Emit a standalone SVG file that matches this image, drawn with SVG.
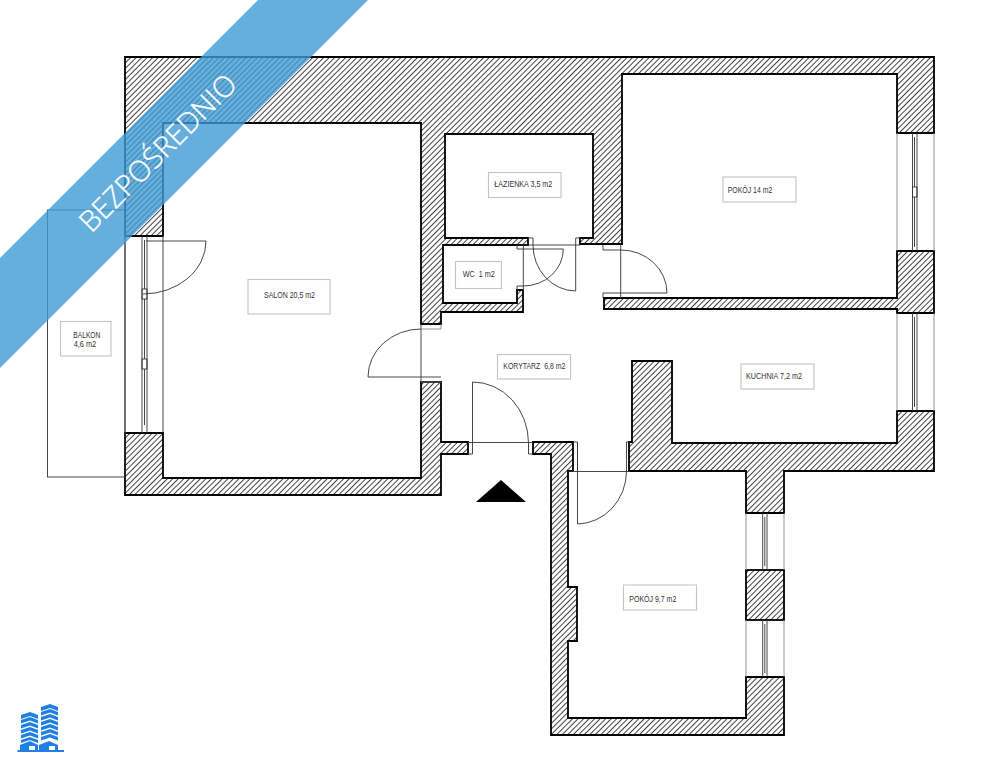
<svg xmlns="http://www.w3.org/2000/svg" width="1000" height="770" viewBox="0 0 1000 770">
<style>
.wall{fill:url(#hatch);stroke:#000;stroke-width:1.8;stroke-linejoin:miter}
.thin{fill:none;stroke:#333;stroke-width:.9}
.grey{fill:none;stroke:#888;stroke-width:.9}
.lbl{fill:#fff;stroke:#c4c4c4;stroke-width:1.1}
.t{font-family:"Liberation Sans",Arial,sans-serif;font-size:8.2px;fill:#333}
.logo{fill:#1f7fe3}
</style>
<defs>
<pattern id="hatch" patternUnits="userSpaceOnUse" width="3.9" height="3.9" patternTransform="rotate(45)">
<rect width="3.9" height="3.9" fill="#fff"/><rect width=".85" height="3.9" fill="#222"/>
</pattern>
</defs>
<rect width="1000" height="770" fill="#fff"/>
<g id="walls">
<path class="wall" d="M125 57H934V133H897V74H622V244H580V238H593V134H445V238H528V245H443V303H517V290H523V312H441V324H421V123H163V236H125Z"/>
<path class="wall" d="M125 433H163V478H421V382H441V442H468V454H441V495H125Z"/>
<path class="wall" d="M533 442H573V471H568V587H577V641H568V718H746V677H784V735H551V454H533Z"/>
<path class="wall" d="M632 361H672V443H897V411H934V471H784V513H746V471H629V442H632Z"/>
<path class="wall" d="M604 298H897V251H934V313H897V309H604Z"/>
<rect class="wall" x="746" y="570" width="38" height="50"/>
</g>
<g id="windows">
<path class="thin" d="M125 236V433M163 236V433"/>
<path class="thin" d="M142 236V433M147 236V433M144.5 240V289M144.5 299V359M144.5 369V425"/>
<rect class="thin" x="142" y="289" width="5" height="10"/><rect class="thin" x="142" y="359" width="5" height="10"/>
<path class="grey" d="M897 133V251M934 133V251M897 313V411M934 313V411"/>
<path class="thin" d="M912.5 133V251M917 133V251M914.500 137V187M914.500 197V247M912.500 313V411M917 313V411M914.500 317V407"/>
<rect class="thin" x="912.500" y="187" width="4.500" height="10"/>
<path class="grey" d="M746 513V570M784 513V570M746 620V677M784 620V677"/>
<path class="thin" d="M762.7 513V570M767 513V570M764.8 517V566M762.7 620V677M767 620V677M764.8 624V673"/>
</g>
<g id="doors">
<path class="thin" d="M146 241H206A63 53 0 0 1 143 294"/>
<path class="thin" d="M421 324V382M368 377H441M368 377A53 48 0 0 1 421 329"/>
<path class="grey" d="M421 329H441V324M421 382H441"/>
<path class="thin" d="M472.500 454V382A56 61 0 0 1 528.500 443M468 442.500H533M468 454H472.500M528.500 442.500V454H533"/>
<path class="thin" d="M577.500 442V524A50 53 0 0 0 626.500 471.500M568 471.500H630M573 442H577.500V471M626.500 442V471.500M630 442H626.500"/>
<path class="thin" d="M575.700 238V291A43 46 0 0 1 533 245M517 245H580M528 238H533V245M580 238H575.700"/>
<path class="thin" d="M523.300 245V290M517 249H563.300M517 286H523.300A40 37 0 0 0 563.300 249M517 245V249M517 286V290"/>
<path class="thin" d="M620.700 244V298M603 250H620.700M603 244.500V250M603 293V298M603 293H667A46 43 0 0 0 620.700 250"/>
</g>
<g id="balcony"><rect class="thin" x="47.500" y="210" width="77.500" height="267"/></g>
<path id="entry" d="M476 502L501 480L526 502Z" fill="#000"/>
<g id="room-balkon"><rect class="lbl" x="60.500" y="321.500" width="50.500" height="34.500"/><text class="t" x="73.300" y="337.500" textLength="27" lengthAdjust="spacingAndGlyphs">BALKON</text><text class="t" x="73.700" y="346.800" textLength="22.500" lengthAdjust="spacingAndGlyphs">4,6 m2</text></g>
<g id="room-salon"><rect class="lbl" x="248" y="279.500" width="82" height="34.500"/><text class="t" x="264" y="298" textLength="51" lengthAdjust="spacingAndGlyphs">SALON 20,5 m2</text></g>
<g id="room-lazienka"><rect class="lbl" x="488.500" y="172.500" width="72.500" height="25"/><text class="t" x="494.300" y="187" textLength="58" lengthAdjust="spacingAndGlyphs">ŁAZIENKA 3,5 m2</text></g>
<g id="room-wc"><rect class="lbl" x="455.500" y="261.500" width="46" height="27"/><text class="t" x="462.700" y="277" textLength="32" lengthAdjust="spacingAndGlyphs" xml:space="preserve">WC  1 m2</text></g>
<g id="room-pokoj14"><rect class="lbl" x="723" y="177" width="73" height="25"/><text class="t" x="727.700" y="192.700" textLength="44.600" lengthAdjust="spacingAndGlyphs">POKÓJ 14 m2</text></g>
<g id="room-korytarz"><rect class="lbl" x="497.500" y="354.500" width="73" height="24.500"/><text class="t" x="503.300" y="369" textLength="62" lengthAdjust="spacingAndGlyphs" xml:space="preserve">KORYTARZ  6,8 m2</text></g>
<g id="room-kuchnia"><rect class="lbl" x="741" y="364" width="73" height="25"/><text class="t" x="746" y="378.500" textLength="56" lengthAdjust="spacingAndGlyphs">KUCHNIA 7,2 m2</text></g>
<g id="room-pokoj97"><rect class="lbl" x="623.500" y="585" width="73" height="25"/><text class="t" x="629.300" y="601.700" textLength="47" lengthAdjust="spacingAndGlyphs">POKÓJ 9,7 m2</text></g>
<g id="banner">
<path d="M258 0H368L0 368V258Z" fill="#409bd3" fill-opacity=".8"/>
<text x="165" y="160" transform="rotate(-45 165 160)" text-anchor="middle" font-family="'Open Sans','Liberation Sans',sans-serif" font-weight="300" font-size="28.800" fill="#fff" stroke="#fff" stroke-width=".3">BEZPOŚREDNIO</text>
</g>
<g id="logo" class="logo">
<rect x="17.500" y="750" width="46.500" height="2"/>
<path d="M21 715L30 712L38 715V719L30 716L21 719ZM21 720L30 717L38 720V723.500L30 720.500L21 723.500ZM21 725L30 722L38 725V728.500L30 725.500L21 728.500ZM21 730L30 727L38 730V733.500L30 730.500L21 733.500ZM21 735L30 732L38 735V738.500L30 735.500L21 738.500ZM21 740L30 737L38 740V743L30 740L21 743Z"/>
<path d="M41 707L50 704L58 707V711L50 708L41 711ZM41 712L50 709L58 712V715.500L50 712.500L41 715.500ZM41 717L50 714L58 717V720.500L50 717.500L41 720.500ZM41 722L50 719L58 722V725.500L50 722.500L41 725.500ZM41 727L50 724L58 727V730.500L50 727.500L41 730.500ZM41 732L50 729L58 732V735.500L50 732.500L41 735.500ZM41 737L50 734L58 737V740.500L50 737.500L41 740.500Z"/>
<path d="M20 750V745L30 741L38 745V750H35V746H29V750Z"/>
<path d="M39 750V745L49 741L58 745V750H55V746H49V750Z"/>
</g>
</svg>
